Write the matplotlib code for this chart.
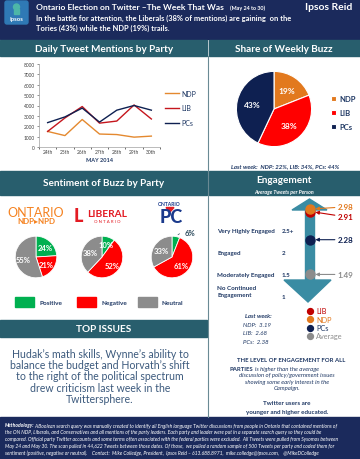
import math
import matplotlib
matplotlib.use("Agg")
import matplotlib.pyplot as plt
from matplotlib.patches import Rectangle, Polygon, FancyBboxPatch, Circle

plt.rcParams['font.family'] = ['Lato', 'DejaVu Sans']

# ---- data ----
days = ["24th", "25th", "26th", "27th", "28th", "29th", "30th"]
ndp_daily = [1500, 1100, 2650, 1250, 1200, 950, 1050]
lib_daily = [1500, 2800, 3900, 2300, 2500, 4050, 2700]
pc_daily = [2350, 2900, 3750, 2400, 3550, 4000, 3550]

parties = ["NDP", "LIB", "PCs"]
share = [19, 38, 43]
last_week_share = [22, 34, 44]

sent_labels = ["Positive", "Negative", "Neutral"]
sent_ndp = [24, 21, 55]
sent_lib = [10, 52, 38]
sent_pc = [6, 61, 33]

eng_names = ["NDP", "LIB", "PCs", "Average"]
eng_values = [2.98, 2.91, 2.28, 1.49]
eng_last_week = [3.19, 2.68, 2.38]
levels = ["Very Highly Engaged", "Engaged", "Moderately Engaged", "No Continued\nEngagement"]
level_values = [2.5, 2, 1.5, 1]
level_labels = ["2.5+", "2", "1.5", "1"]

top_issues = ("Hudak\u2019s math skills, Wynne\u2019s ability to\n"
              "balance the budget and Horvath\u2019s shift\n"
              "to the right of the political spectrum\n"
              "drew criticism last week in the\n"
              "Twittersphere.")

method = [
    "A Boolean search query was manually created to identify all English language Twitter discussions from people in Ontario that contained mentions of",
    "the ON NDP, Liberals, and Conservatives and all mentions of the party leaders. Each party and leader were put in a separate search query so they could be",
    "compared. Official party Twitter accounts and some terms often associated with the federal parties were excluded.  All Tweets were pulled from Sysomos between",
    "May 24 and May 30. The scan pulled in 44,622 Tweets between those dates. Of those,  we pulled a random sample of 500 Tweets per party and coded them for",
    "sentiment (positive, negative or neutral).    Contact:  Mike Colledge, President,  Ipsos Reid \u2013 613.688.8971,  mike.colledge@ipsos.com,    @MikeDColledge",
]

# ---- colours ----
NAVY = "#1B2A5C"
TEAL = "#285E6D"
ARROW = "#3A8CA3"
TXT = "#1F3864"
c_ndp, c_lib, c_pc = "#E2791E", "#FF0000", "#0E2051"
line_cols = ["#E4892F", "#C5161D", "#0E2051"]
sent_cols = ["#00B050", "#FF0000", "#8C8C8C"]
eng_cols = ["#E2791E", "#C00000", "#0E2051", "#8C8C8C"]

W, H = 360, 460


def box(x, y, w, h):
    return [x / W, 1 - (y + h) / H, w / W, h / H]


fig = plt.figure(figsize=(3.6, 4.6), dpi=100)
bg = fig.add_axes([0, 0, 1, 1])
bg.set_xlim(0, W)
bg.set_ylim(H, 0)
bg.axis("off")

# bands
bg.add_patch(Rectangle((0, 0), W, 40, color=NAVY))
bg.add_patch(Rectangle((0, 418), W, 42, color=NAVY))
for (x, y, w, h) in [(0, 41, 207, 16), (209, 41, 151, 16), (0, 172, 207, 24),
                     (209, 172, 151, 24), (0, 321, 207, 17)]:
    bg.add_patch(Rectangle((x, y), w, h, color=TEAL))
bg.plot([208, 208], [57, 418], color="#6A8A94", lw=0.8)

# header
bg.add_patch(FancyBboxPatch((5, 2), 23, 23, boxstyle="round,pad=0,rounding_size=2",
                            color="#2F79B5"))
bg.add_patch(Circle((16.5, 8), 3, color="#4DB6A8"))
bg.add_patch(Rectangle((14, 10), 5, 5, color="#4DB6A8"))
bg.text(16.5, 20, "Ipsos", color="white", fontsize=4.2, fontweight="bold", ha="center", va="center")
bg.text(36, 7.5, "Ontario Election on Twitter \u2013The Week That Was", color="white",
        fontsize=6.1, fontweight="bold", va="center")
bg.text(230, 8, "(May 24 to 30)", color="white", fontsize=3.9, fontweight="bold", va="center")
bg.text(36, 18, "In the battle for attention, the Liberals (38% of mentions) are gaining  on the",
        color="white", fontsize=5.4, fontweight="bold", va="center")
bg.text(36, 28, "Tories (43%) while the NDP (19%) trails.",
        color="white", fontsize=5.4, fontweight="bold", va="center")
bg.text(329, 8, "Ipsos Reid", color="white", fontsize=7.5, fontweight="bold", ha="center", va="center")

# section titles
bg.text(104, 49, "Daily Tweet Mentions by Party", color="white", fontsize=7.2, fontweight="bold",
        ha="center", va="center")
bg.text(284, 49, "Share of Weekly Buzz", color="white", fontsize=7.2, fontweight="bold",
        ha="center", va="center")
bg.text(104, 184, "Sentiment of Buzz by Party", color="white", fontsize=7.2, fontweight="bold",
        ha="center", va="center")
bg.text(284, 181, "Engagement", color="white", fontsize=7.2, fontweight="bold",
        ha="center", va="center")
bg.text(284, 192.5, "Average Tweets per Person", color="white", fontsize=3.8, fontweight="bold",
        style="italic", ha="center", va="center")
bg.text(104, 329.5, "TOP ISSUES", color="white", fontsize=7.2, fontweight="bold",
        ha="center", va="center")

# ---- daily line chart ----
ax = fig.add_axes(box(39, 65, 121, 83))
x = range(len(days))
for vals, name, c in zip([ndp_daily, lib_daily, pc_daily], parties, line_cols):
    ax.plot(x, vals, color=c, lw=1.0, label=name)
ax.set_xlim(-0.45, 6.3)
ax.set_ylim(0, 8000)
ax.set_yticks(range(0, 8001, 1000))
ax.set_xticks(list(x))
ax.set_xticklabels(days)
ax.set_xticks([i + 0.5 for i in range(-1, 7)], minor=True)
ax.tick_params(labelsize=3.5, colors="#404040", length=1.5, width=0.4, pad=1.5)
ax.tick_params(axis="x", which="major", length=0)
ax.tick_params(axis="x", which="minor", length=1.5, width=0.4)
for s in ["top", "right"]:
    ax.spines[s].set_visible(False)
for s in ["left", "bottom"]:
    ax.spines[s].set_color("#A0A0A0")
    ax.spines[s].set_linewidth(0.5)
ax.set_facecolor("none")
ax.set_xlabel("MAY 2014", fontsize=4, fontweight="bold", color=TXT, labelpad=2)
ax.legend(loc="center left", bbox_to_anchor=(0.99, 0.47), frameon=False, fontsize=5,
          handlelength=2.0, labelspacing=1.1, handletextpad=0.3, labelcolor=TXT)

# ---- share pie ----
pax = fig.add_axes(box(227, 63, 94, 94))
wedges, _, _ = pax.pie(share, colors=[c_ndp, c_lib, c_pc], startangle=90, counterclock=False,
                       autopct=lambda p: f"{p:.0f}%", pctdistance=0.6,
                       wedgeprops=dict(edgecolor="white", linewidth=0.8),
                       textprops=dict(color="white", fontsize=6, fontweight="bold"))
pax.legend(wedges, parties, loc="center left", bbox_to_anchor=(1.03, 0.46), frameon=False,
           handlelength=0.7, handleheight=0.7, handletextpad=0.5,
           labelspacing=0.9, labelcolor=TXT, prop=dict(weight="bold", size=5.5))
lw_txt = "Last week:  " + ", ".join(f"{p}: {v}%" for p, v in zip(parties, last_week_share))
bg.text(285, 167, lw_txt, fontsize=4.3, style="italic", fontweight="bold", color=TXT,
        ha="center", va="center")

# ---- sentiment pies ----
for cx, vals in zip([36, 102, 172], [sent_ndp, sent_lib, sent_pc]):
    sax = fig.add_axes(box(cx - 26, 232, 52, 52))
    sax.pie(vals, colors=sent_cols, startangle=90, counterclock=False,
            autopct=lambda p: f"{p:.0f}%" if p >= 8 else "", pctdistance=0.62,
            wedgeprops=dict(edgecolor="white", linewidth=0.6),
            textprops=dict(color="white", fontsize=5.5, fontweight="bold"))
    if vals[0] < 8:
        ang = math.radians(90 - vals[0] / sum(vals) * 180)
        sax.annotate(f"{vals[0]}%", xy=(math.cos(ang), math.sin(ang)), xytext=(0.62, 1.16),
                     fontsize=5.5, fontweight="bold", color="#2B4A5C", va="center",
                     annotation_clip=False,
                     arrowprops=dict(arrowstyle="-", color="#2B4A5C", lw=0.5,
                                     connectionstyle="arc3,rad=0.3"))

# party logos
bg.text(36, 213.5, "ONTARIO", color="#F58220", fontsize=9, ha="center", va="center")
bg.text(36, 222, "NDP\u25B8NPD", color="#F58220", fontsize=5.8, fontweight="bold",
        ha="center", va="center")
bg.text(78, 217, "L", color="#E31B23", fontsize=13, fontweight="black", ha="center", va="center")
bg.text(107, 214.5, "LIBERAL", color="#E31B23", fontsize=7.3, fontweight="bold",
        ha="center", va="center")
bg.text(107, 222, "O N T A R I O", color="#E31B23", fontsize=3.2, ha="center", va="center")
bg.text(169, 205, "ONTARIO", color="#1B3A8C", fontsize=3.6, fontweight="bold", ha="center", va="center")
bg.text(171, 218, "PC", color="#1B3A8C", fontsize=13, fontweight="black", ha="center", va="center")
bg.add_patch(Polygon([(166, 208.5), (174, 208.5), (170, 213)], color="#E31B23"))

# sentiment legend
for lx, name, c in zip([15, 77, 138], sent_labels, sent_cols):
    bg.add_patch(Rectangle((lx, 298), 19, 10, color=c))
    bg.text(lx + 24, 303.5, name, fontsize=4.6, fontweight="bold", color=TXT, va="center")

# top issues paragraph
bg.text(100, 377, top_issues, fontsize=7.6, color="#3C5A7D", ha="center", va="center",
        linespacing=1.05)

# ---- engagement ----
bg.add_patch(Polygon([(292, 211), (327, 211), (309.5, 200)], color=ARROW))
bg.add_patch(Rectangle((305, 210), 9, 72, color=ARROW))
bg.add_patch(Polygon([(284, 281), (331, 281), (308, 303)], color=ARROW))

eng = fig.add_axes(box(210, 200, 150, 100))
eng.set_xlim(0, 150)
eng.set_ylim(0.932, 3.205)
eng.axis("off")
eng.set_facecolor("none")
for name, lv, ll in zip(levels, level_values, level_labels):
    off = 3.6 if "\n" in name else 0
    eng.annotate(name, xy=(7, lv), xytext=(0, off), textcoords="offset points",
                 fontsize=4.5, fontweight="bold", color=TXT, va="center", linespacing=1.35)
    eng.text(72, lv, ll, fontsize=4.5, fontweight="bold", color=TXT, va="center")
label_off = [1.5, -3.5, 0, 0]
for v, c, off in zip(eng_values, eng_cols, label_off):
    eng.annotate(f"{v:.2f}", xy=(104, v), xytext=(17, off), textcoords="offset points",
                 fontsize=5.8, fontweight="bold", color=c, va="center",
                 arrowprops=dict(arrowstyle="-|>", color=c, lw=0.8, mutation_scale=5,
                                 shrinkA=0, shrinkB=1))
for v, c in list(zip(eng_values, eng_cols))[::-1]:
    eng.scatter([99.5], [v], s=42, color=c, zorder=5)

# engagement legend (LIB, NDP, PCs, Average)
for i, (name, c) in enumerate([("LIB", eng_cols[1]), ("NDP", eng_cols[0]),
                               ("PCs", eng_cols[2]), ("Average", eng_cols[3])]):
    yy = 312 + i * 8.3
    bg.scatter([310], [yy], s=18, color=c)
    bg.text(316, yy, name, fontsize=5.3, color=c if name != "PCs" else TXT, va="center")

bg.text(258, 317, "Last week:", fontsize=4.3, fontweight="bold", style="italic", color=TXT,
        ha="center", va="center")
for i, (p, v) in enumerate(zip(parties, eng_last_week)):
    bg.text(243, 325.5 + i * 8.5, f"{p}:  {v:.2f}", fontsize=4.3, style="italic", color=TXT, va="center")

bg.text(237, 361, "THE LEVEL OF ENGAGEMENT FOR ALL", fontsize=4.3, fontweight="bold", color=TXT,
        va="center")
bg.text(253, 369.5, "PARTIES", fontsize=4.3, fontweight="bold", color=TXT, va="center", ha="right")
bg.text(255, 369.5, "is higher than the average", fontsize=4.3, style="italic", color=TXT, va="center")
bg.text(287, 382, "discussion of policy/government issues\nshowing some early interest in the\nCampaign.",
        fontsize=4.3, style="italic", color=TXT, va="center", ha="center", linespacing=1.45)
bg.text(287, 404, "Twitter users are", fontsize=4.5, fontweight="bold", color=TXT,
        va="center", ha="center")
bg.text(287, 413, "younger and higher educated.", fontsize=4.5, fontweight="bold", color=TXT,
        va="center", ha="center")

# footer
bg.text(5, 426, "Methodology:", fontsize=3.6, fontweight="bold", style="italic", color="white",
        va="center")
bg.text(34, 426, method[0], fontsize=3.6, style="italic", color="white", va="center")
for i, line in enumerate(method[1:], start=1):
    bg.text(5, 426 + i * 6.8, line, fontsize=3.6, style="italic", color="white", va="center")

fig.savefig("out.png", dpi=100)
